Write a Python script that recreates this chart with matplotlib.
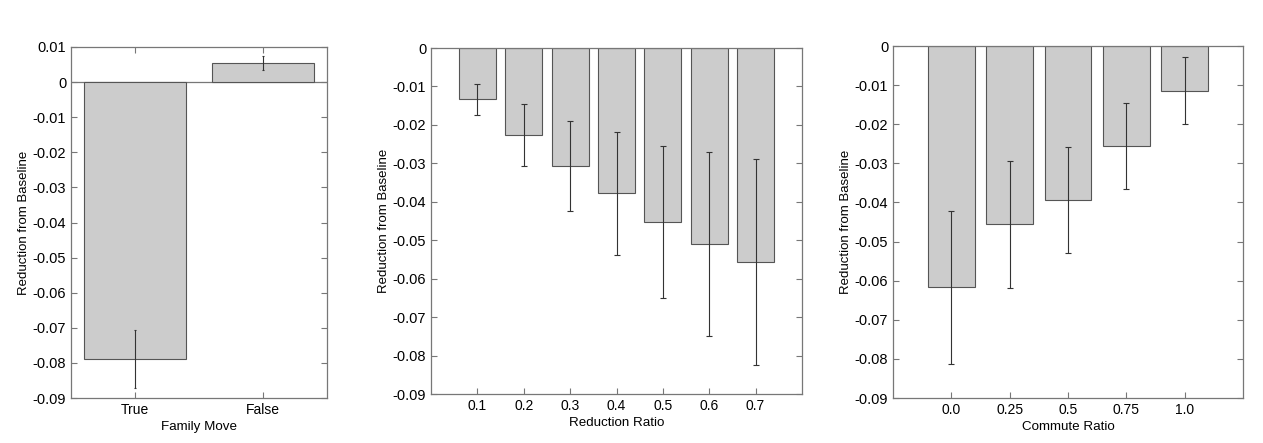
import matplotlib.pyplot as plt

plt.rcParams['font.family'] = ['Liberation Sans', 'DejaVu Sans']
plt.rcParams['font.size'] = 10

# Family Move
fam_labels = ['True', 'False']
fam_vals = [-0.0789, 0.0054]
fam_err = [0.0083, 0.0020]

# Reduction Ratio
red_labels = ['0.1', '0.2', '0.3', '0.4', '0.5', '0.6', '0.7']
red_vals = [-0.0133, -0.0226, -0.0307, -0.0378, -0.0452, -0.0510, -0.0557]
red_err = [0.0040, 0.0080, 0.0117, 0.0160, 0.0197, 0.0239, 0.0267]

# Commute Ratio
com_labels = ['0.0', '0.25', '0.5', '0.75', '1.0']
com_vals = [-0.0617, -0.0456, -0.0394, -0.0256, -0.0114]
com_err = [0.0195, 0.0163, 0.0136, 0.0110, 0.0086]

W, H = 1263, 443
fig = plt.figure(figsize=(W / 100, H / 100), dpi=100)

def box(l, t, r, b):
    return [l / W, 1 - b / H, (r - l) / W, (b - t) / H]

def panel(rect, labels, vals, errs, xlabel, ylim, yticks, capsize):
    ax = fig.add_axes(rect)
    x = list(range(len(vals)))
    ax.bar(x, vals, width=0.8, color='#cccccc', edgecolor='#555555', linewidth=0.8,
           zorder=2)
    ax.errorbar(x, vals, yerr=errs, fmt='none', ecolor='#333333', elinewidth=0.8,
                capsize=capsize, capthick=0.8, zorder=3)
    ax.set_xlim(-1 if len(vals) > 2 else -0.5, len(vals) if len(vals) > 2 else 1.5)
    ax.set_ylim(*ylim)
    ax.set_xticks(x)
    ax.set_xticklabels(labels, fontsize=10)
    ax.set_yticks(yticks)
    ax.set_yticklabels(['0' if abs(v) < 1e-9 else '%.2f' % v for v in yticks],
                       fontsize=10.5)
    ax.tick_params(direction='in', top=True, right=True, length=4, color='#777777',
                   width=0.8)
    for s in ax.spines.values():
        s.set_color('#777777')
        s.set_linewidth(0.9)
    ax.set_xlabel(xlabel, fontsize=9.6, labelpad=3)
    ax.set_ylabel('Reduction from Baseline', fontsize=9.5, labelpad=2)
    return ax

ax1 = panel(box(71, 47, 327, 398), fam_labels, fam_vals, fam_err, 'Family Move',
            (-0.09, 0.01), [0.01, 0, -0.01, -0.02, -0.03, -0.04, -0.05, -0.06, -0.07, -0.08, -0.09], 1)
ax1.axhline(0, color='#777777', linewidth=0.9, zorder=1)

panel(box(431, 48, 802, 394), red_labels, red_vals, red_err, 'Reduction Ratio',
      (-0.09, 0), [0, -0.01, -0.02, -0.03, -0.04, -0.05, -0.06, -0.07, -0.08, -0.09], 2)

panel(box(893, 46, 1243, 398), com_labels, com_vals, com_err, 'Commute Ratio',
      (-0.09, 0), [0, -0.01, -0.02, -0.03, -0.04, -0.05, -0.06, -0.07, -0.08, -0.09], 2)

fig.savefig('out.png', dpi=100)
